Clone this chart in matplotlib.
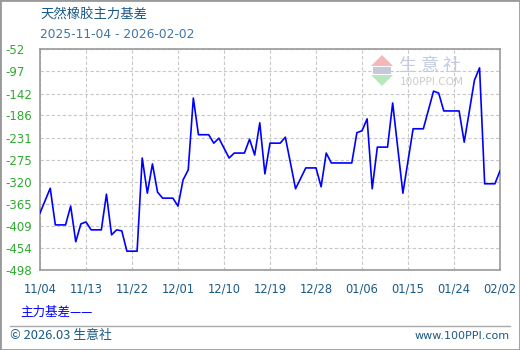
import matplotlib
matplotlib.use('Agg')
import matplotlib.pyplot as plt
import matplotlib.dates as mdates
from matplotlib.patches import Rectangle, Polygon
import pandas as pd

plt.rcParams['font.family'] = ['Noto Sans CJK SC', 'DejaVu Sans']

# data
dates = ['2025-11-04', '2025-11-06', '2025-11-07', '2025-11-09', '2025-11-10', '2025-11-11',
         '2025-11-12', '2025-11-13', '2025-11-14', '2025-11-16', '2025-11-17', '2025-11-18',
         '2025-11-19', '2025-11-20', '2025-11-21', '2025-11-23', '2025-11-24', '2025-11-25',
         '2025-11-26', '2025-11-27', '2025-11-28', '2025-11-30', '2025-12-01', '2025-12-02',
         '2025-12-03', '2025-12-04', '2025-12-05', '2025-12-07', '2025-12-08', '2025-12-09',
         '2025-12-11', '2025-12-12', '2025-12-14', '2025-12-15', '2025-12-16', '2025-12-17',
         '2025-12-18', '2025-12-19', '2025-12-21', '2025-12-22', '2025-12-24', '2025-12-26',
         '2025-12-28', '2025-12-29', '2025-12-30', '2025-12-31', '2026-01-04', '2026-01-05',
         '2026-01-06', '2026-01-07', '2026-01-08', '2026-01-09', '2026-01-11', '2026-01-12',
         '2026-01-14', '2026-01-16', '2026-01-18', '2026-01-20', '2026-01-21', '2026-01-22',
         '2026-01-25', '2026-01-26', '2026-01-28', '2026-01-29', '2026-01-30', '2026-02-01',
         '2026-02-02']
basis = [-383, -333, -407, -407, -369, -441,
         -405, -401, -417, -417, -345, -427,
         -417, -419, -460, -460, -272, -343,
         -284, -341, -353, -353, -369, -316,
         -296, -151, -225, -225, -242, -232,
         -272, -262, -262, -234, -266, -201,
         -304, -242, -242, -230, -334, -292,
         -292, -330, -262, -282, -282, -221,
         -217, -193, -334, -250, -250, -161,
         -343, -213, -213, -137, -141, -177,
         -177, -240, -115, -90, -324, -324,
         -298]
yticks = [-52, -97, -142, -186, -231, -275, -320, -365, -409, -454, -498]
xtick_dates = ['2025-11-04', '2025-11-13', '2025-11-22', '2025-12-01', '2025-12-10', '2025-12-19',
               '2025-12-28', '2026-01-06', '2026-01-15', '2026-01-24', '2026-02-02']

W, H = 520, 350
fig = plt.figure(figsize=(5.2, 3.5), dpi=100)
ax = fig.add_axes([40 / W, 1 - 270 / H, 460 / W, 221 / H])

x = pd.to_datetime(dates)
ax.plot(x, basis, color='#0000ff', linewidth=1.2, zorder=3)

ax.set_ylim(-498, -52)
ax.set_yticks(yticks)
ax.set_yticklabels([str(v) for v in yticks], ha='left', color='#2eaa2e', fontsize=8.5,
                   family='DejaVu Sans')
ax.set_xlim(pd.Timestamp('2025-11-04'), pd.Timestamp('2026-02-02'))
ax.set_xticks(pd.to_datetime(xtick_dates))
ax.xaxis.set_major_formatter(mdates.DateFormatter('%m/%d'))
for lab in ax.get_xticklabels():
    lab.set_color('#1a5a86')
    lab.set_fontsize(8.3)
    lab.set_family('DejaVu Sans')
ax.tick_params(axis='y', length=0, pad=25)
ax.tick_params(axis='x', length=0, pad=9)
ax.grid(True, color='#c8c8c8', linestyle=(0, (3, 2)), linewidth=0.8)
for s in ax.spines.values():
    s.set_color('#999999')
    s.set_linewidth(1.2)

# titles
fig.text(40 / W, 1 - 15 / H, '天然橡胶主力基差', color='#1a5a86', fontsize=9.6, va='center')
fig.text(40 / W, 1 - 35 / H, '2025-11-04 - 2026-02-02', color='#3f76a6', fontsize=8.8,
         va='center', family='DejaVu Sans')

# watermark
fig.patches.append(Polygon([[371 / W, 1 - 66 / H], [393 / W, 1 - 66 / H], [382 / W, 1 - 55 / H]],
                           closed=True, transform=fig.transFigure, facecolor='#f4b8b8',
                           edgecolor='none', zorder=4))
fig.patches.append(Polygon([[371 / W, 1 - 75 / H], [393 / W, 1 - 75 / H], [382 / W, 1 - 86 / H]],
                           closed=True, transform=fig.transFigure, facecolor='#b8e6c0',
                           edgecolor='none', zorder=4))
fig.patches.append(Rectangle((373 / W, 1 - 74 / H), 18 / W, 7 / H, transform=fig.transFigure,
                             facecolor='#c8c8d8', edgecolor='none', zorder=4))
fig.text(399 / W, 1 - 66 / H, '生 意 社', color='#c3cbe0', fontsize=13, va='center', zorder=4)
fig.text(400 / W, 1 - 82 / H, '100PPI.COM', color='#cccccc', fontsize=7.6, va='center',
         family='DejaVu Sans', zorder=4)

# legend and footer
fig.text(20 / W, 1 - 312 / H, '主力基差——', color='#0000ff', fontsize=9, va='center')
fig.add_artist(plt.Line2D([10 / W, 510 / W], [1 - 326 / H, 1 - 326 / H], color='#aaaaaa',
                          linewidth=1, transform=fig.transFigure))
fig.text(10 / W, 1 - 336 / H, '© 2026.03 生意社', color='#1a5a86', fontsize=9.3, va='center')
fig.text(510 / W, 1 - 336 / H, 'www.100PPI.com', color='#1a5a86', fontsize=8, va='center',
         ha='right', family='DejaVu Sans')

# outer frame
fig.patches.append(Rectangle((0, 0), 1, 1, transform=fig.transFigure, fill=False,
                             edgecolor='#999999', linewidth=2))

fig.savefig('out.png', dpi=100)
